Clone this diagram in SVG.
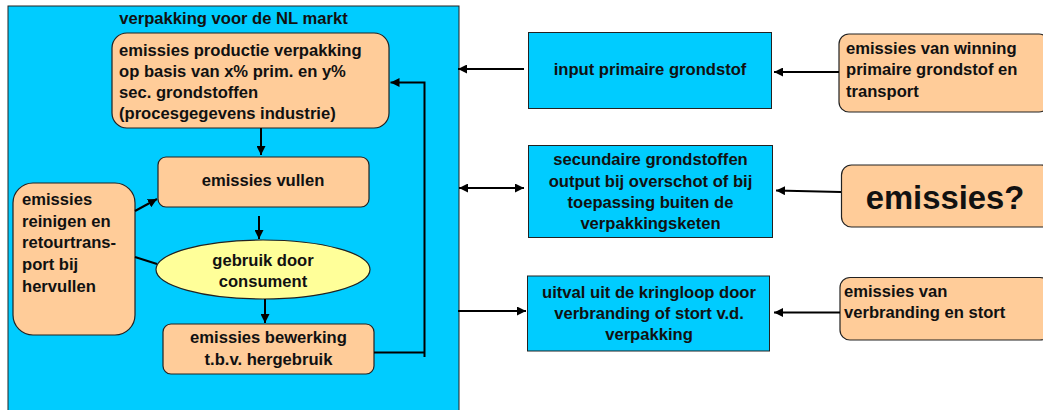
<svg xmlns="http://www.w3.org/2000/svg" width="1043" height="410" viewBox="0 0 1043 410">
  <style>
    .t { font-family: "Liberation Sans", Arial, sans-serif; font-weight: bold; font-size: 16.6px; fill: #111; }
    .c { text-anchor: middle; }
    .blue { fill: #00CCFF; stroke: #222; stroke-width: 1; }
    .orange { fill: #FFCC99; stroke: #222; stroke-width: 1.2; }
    .yellow { fill: #FFFF99; stroke: #222; stroke-width: 1.2; }
    .wire { fill: none; stroke: #000; stroke-width: 2; }
  </style>
  <defs>
    <marker id="arrow" markerUnits="userSpaceOnUse" markerWidth="10" markerHeight="9" refX="9" refY="4.5" orient="auto-start-reverse">
      <path d="M0,0 L9,4.5 L0,9 z" fill="#000"/>
    </marker>
  </defs>

  <rect width="1043" height="410" fill="#fff"/>

  <!-- packaging chain for the Dutch market -->
  <g id="markt">
    <rect class="blue" x="8" y="6" width="451" height="420"/>
    <text class="t c" x="233.5" y="24">verpakking voor de NL markt</text>
  </g>

  <g id="productie">
    <rect class="orange" x="112" y="33" width="277" height="95" rx="15"/>
    <text class="t" x="119" y="56">emissies productie verpakking</text>
    <text class="t" x="119" y="77">op basis van x% prim. en y%</text>
    <text class="t" x="119" y="97.5">sec. grondstoffen</text>
    <text class="t" x="119" y="118.5">(procesgegevens industrie)</text>
  </g>

  <g id="vullen">
    <rect class="orange" x="158" y="157" width="211" height="50" rx="8"/>
    <text class="t c" x="263" y="186">emissies vullen</text>
  </g>

  <g id="consument">
    <ellipse class="yellow" cx="263" cy="269.5" rx="107" ry="29.5"/>
    <text class="t c" x="263" y="266">gebruik door</text>
    <text class="t c" x="263" y="287">consument</text>
  </g>

  <g id="bewerking">
    <rect class="orange" x="163" y="324" width="211" height="50" rx="8"/>
    <text class="t c" x="268.5" y="343">emissies bewerking</text>
    <text class="t c" x="268.5" y="365">t.b.v. hergebruik</text>
  </g>

  <g id="hervullen">
    <rect class="orange" x="13" y="183" width="122" height="152" rx="20"/>
    <text class="t" x="22" y="205">emissies</text>
    <text class="t" x="22" y="227">reinigen en</text>
    <text class="t" x="22" y="248">retourtrans-</text>
    <text class="t" x="22" y="270">port bij</text>
    <text class="t" x="22" y="292">hervullen</text>
  </g>

  <!-- flows across the chain boundary -->
  <g id="primair">
    <rect class="blue" x="528.5" y="32.5" width="243" height="76"/>
    <text class="t c" x="650" y="75">input primaire grondstof</text>
  </g>

  <g id="secundair">
    <rect class="blue" x="528.5" y="145.5" width="244" height="92"/>
    <text class="t c" x="650.5" y="165">secundaire grondstoffen</text>
    <text class="t c" x="650.5" y="186.5">output bij overschot of bij</text>
    <text class="t c" x="650.5" y="207.5">toepassing buiten de</text>
    <text class="t c" x="650.5" y="229">verpakkingsketen</text>
  </g>

  <g id="uitval">
    <rect class="blue" x="527.5" y="276" width="242" height="75"/>
    <text class="t c" x="649" y="297.5">uitval uit de kringloop door</text>
    <text class="t c" x="649" y="318.5">verbranding of stort v.d.</text>
    <text class="t c" x="649" y="340">verpakking</text>
  </g>

  <!-- upstream / downstream emissions -->
  <g id="winning">
    <rect class="orange" x="839" y="34" width="210" height="78" rx="10"/>
    <text class="t" x="846" y="53.5">emissies van winning</text>
    <text class="t" x="846" y="75">primaire grondstof en</text>
    <text class="t" x="846" y="96.5">transport</text>
  </g>

  <g id="onbekend">
    <rect class="orange" x="841.5" y="165" width="210" height="62" rx="10"/>
    <text class="t c" x="945" y="208.5" style="font-size:32.8px">emissies?</text>
  </g>

  <g id="verbranding">
    <rect class="orange" x="840" y="277.5" width="210" height="62.5" rx="10"/>
    <text class="t" x="844" y="296.5">emissies van</text>
    <text class="t" x="844" y="317.5">verbranding en stort</text>
  </g>

  <g id="connectors">
    <line class="wire" x1="524" y1="69" x2="458" y2="69" marker-end="url(#arrow)"/>
    <line class="wire" x1="839" y1="72" x2="774" y2="72" marker-end="url(#arrow)"/>
    <line class="wire" x1="459" y1="188" x2="524" y2="188" marker-start="url(#arrow)" marker-end="url(#arrow)"/>
    <line class="wire" x1="841" y1="192" x2="776" y2="190.5" marker-end="url(#arrow)"/>
    <line class="wire" x1="458" y1="311" x2="526" y2="311" marker-end="url(#arrow)"/>
    <line class="wire" x1="840" y1="312.5" x2="774" y2="312.5" marker-end="url(#arrow)"/>

    <line class="wire" x1="261" y1="128" x2="261" y2="155" marker-end="url(#arrow)"/>
    <line class="wire" x1="259" y1="216" x2="259" y2="239" marker-end="url(#arrow)"/>
    <line class="wire" x1="265" y1="299" x2="265" y2="323" marker-end="url(#arrow)"/>
    <line class="wire" x1="135" y1="211" x2="157" y2="199" marker-end="url(#arrow)"/>
    <line class="wire" x1="135" y1="257" x2="157" y2="264"/>

    <!-- return loop from processing back to production -->
    <path class="wire" d="M374,352.5 H424 M424.5,357 V82.5 H390.5" marker-end="url(#arrow)"/>
  </g>
</svg>
